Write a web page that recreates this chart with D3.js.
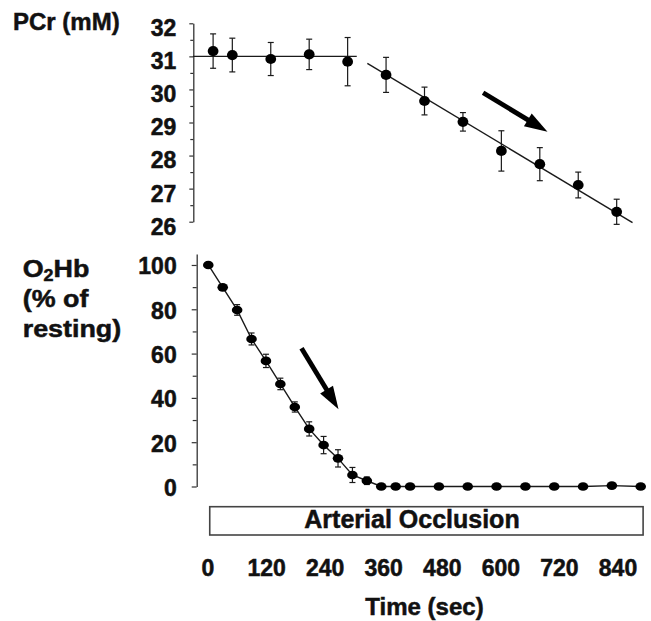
<!DOCTYPE html>
<html>
<head>
<meta charset="utf-8">
<script src="https://cdn.jsdelivr.net/npm/d3@7"></script>
<style>
  body { margin: 0; background: #fff; }
  text { font-family: "Liberation Sans", Arial, sans-serif; font-weight: bold; fill: #111; stroke: #111; stroke-width: 0.5px; }
</style>
</head>
<body>
<svg id="chart" width="651" height="621"></svg>
<script>
// PCr (top panel), mean +/- error, time in sec
const pcrTime = [10, 50, 130, 210, 290, 370, 450, 530, 610, 690, 770, 850];
const pcrMean = [31.16, 31.04, 30.92, 31.06, 30.84, 30.44, 29.65, 29.02, 28.14, 27.74, 27.11, 26.30];
const pcrErr  = [0.52, 0.51, 0.50, 0.46, 0.73, 0.53, 0.42, 0.28, 0.61, 0.50, 0.39, 0.38];
const pcrRestFit  = [[-32, 31.0], [309, 31.0]];
const pcrSlopeFit = [[331, 30.79], [883, 25.97]];
const pcrArrow = [[572, 29.90], [706, 28.72]];
const pcrTicks = [26, 27, 28, 29, 30, 31, 32];
const pcrMinor = [26.5, 27.5, 28.5, 29.5, 30.5, 31.5];

// O2Hb (bottom panel), % of resting
const hbTime = [0, 30, 60, 90, 120, 150, 180, 210, 240, 270, 300, 330, 360, 390, 420,
                480, 540, 600, 660, 720, 780, 840, 900];
const hbMean = [100, 89.9, 79.7, 66.6, 56.7, 46.3, 35.9, 26.0, 18.7, 12.7, 5.2, 2.6, 0, 0, 0,
                0, 0, 0, 0, 0, 0, 0.4, 0];
const hbErr  = [0.3, 1.2, 2.4, 2.7, 3.0, 2.6, 2.3, 3.2, 3.9, 3.9, 3.4, 1.7, 0.3, 0.3, 0.3,
                0.3, 0.3, 0.3, 0.3, 0.3, 0.3, 0.3, 0.3];
const hbArrow = [[194, 62.4], [271, 34.9]];
const hbTicks = [0, 20, 40, 60, 80, 100];
const hbMinor = [10, 30, 50, 70, 90];

// time axis
const timeTicks = [0, 120, 240, 360, 480, 600, 720, 840];
const occlusion = [3, 905];

const svg = d3.select('#chart');
const ink = '#1a1a1a';

// scales
const x = d3.scaleLinear().domain([0, 900]).range([208.3, 640.7]);
const xLabel = d3.scaleLinear().domain([0, 840]).range([207.5, 617.5]); // printed labels sit a bit apart from data
const yPcr = d3.scaleLinear().domain([26, 32]).range([221.7, 23.3]);
const yHb = d3.scaleLinear().domain([0, 105]).range([486.5, 253.9]);

const pcrAxisX = 193.3;
const hbAxisX = 196.7;
const fmt = d3.format('d');

function styleAxis(g) {
    g.select('.domain').attr('stroke', '#333').attr('stroke-width', 1.3);
    g.selectAll('.tick line').attr('stroke', '#333').attr('stroke-width', 1.2);
    g.selectAll('text').attr('font-size', 23).attr('fill', '#111');
}

// ---- top panel axis
const gPcrAxis = svg.append('g')
    .attr('transform', `translate(${pcrAxisX},0)`)
    .call(d3.axisLeft(yPcr).tickValues(pcrTicks).tickFormat(fmt).tickSize(4).tickSizeOuter(0).tickPadding(13))
    .call(styleAxis);
gPcrAxis.selectAll('text').attr('transform', 'translate(0,5)');
svg.append('g')
    .attr('transform', `translate(${pcrAxisX},0)`)
    .call(d3.axisLeft(yPcr).tickValues(pcrMinor).tickSize(3).tickFormat(''))
    .call(styleAxis)
    .select('.domain').remove();

// ---- bottom panel axis
svg.append('g')
    .attr('transform', `translate(${hbAxisX},0)`)
    .call(d3.axisLeft(yHb).tickValues(hbTicks).tickFormat(fmt).tickSize(5).tickSizeOuter(0).tickPadding(15))
    .call(styleAxis)
    .selectAll('text').attr('transform', 'translate(0,1.5)');
svg.append('g')
    .attr('transform', `translate(${hbAxisX},0)`)
    .call(d3.axisLeft(yHb).tickValues(hbMinor).tickSize(4).tickFormat(''))
    .call(styleAxis)
    .select('.domain').remove();

// ---- time labels (no axis line in the original)
const gTime = svg.append('g')
    .attr('transform', 'translate(0,576)')
    .call(d3.axisBottom(xLabel).tickValues(timeTicks).tickFormat(fmt).tickSize(0));
gTime.select('.domain').remove();
gTime.selectAll('text').attr('y', 0).attr('dy', 0).attr('font-size', 23).attr('fill', '#111');

// ---- fit lines, top panel
const line = (ys) => d3.line().x(d => x(d[0])).y(d => ys(d[1]));
[pcrRestFit, pcrSlopeFit].forEach(f => {
    svg.append('path').datum(f)
        .attr('d', line(yPcr))
        .attr('fill', 'none').attr('stroke', ink).attr('stroke-width', 1.4);
});

// ---- connecting line, bottom panel
const hbData = hbTime.map((t, i) => [t, hbMean[i], hbErr[i]]);
svg.append('path').datum(hbData)
    .attr('d', line(yHb))
    .attr('fill', 'none').attr('stroke', ink).attr('stroke-width', 1.4);

// error bars + dots
function drawPoints(data, ys, rx, ry) {
    const g = svg.append('g');
    const eb = g.selectAll('g.eb').data(data).enter().append('g').attr('class', 'eb');
    eb.append('line')
        .attr('x1', d => x(d[0])).attr('x2', d => x(d[0]))
        .attr('y1', d => ys(d[1] + d[2])).attr('y2', d => ys(d[1] - d[2]))
        .attr('stroke', ink).attr('stroke-width', 1.2);
    [1, -1].forEach(s => {
        eb.append('line')
            .attr('x1', d => x(d[0]) - 3).attr('x2', d => x(d[0]) + 3)
            .attr('y1', d => ys(d[1] + s * d[2])).attr('y2', d => ys(d[1] + s * d[2]))
            .attr('stroke', ink).attr('stroke-width', 1.2);
    });
    g.selectAll('ellipse').data(data).enter().append('ellipse')
        .attr('cx', d => x(d[0])).attr('cy', d => ys(d[1]))
        .attr('rx', rx).attr('ry', ry)
        .attr('fill', '#000');
}
const pcrData = pcrTime.map((t, i) => [t, pcrMean[i], pcrErr[i]]);
drawPoints(pcrData, yPcr, 5.4, 5.1);
drawPoints(hbData, yHb, 5.3, 4.3);

// ---- arrows
function drawArrow(pts, ys) {
    const x0 = x(pts[0][0]), y0 = ys(pts[0][1]);
    const x1 = x(pts[1][0]), y1 = ys(pts[1][1]);
    const len = Math.hypot(x1 - x0, y1 - y0);
    const ux = (x1 - x0) / len, uy = (y1 - y0) / len;
    const headL = 23, headW = 7.5;
    const bx = x1 - ux * headL, by = y1 - uy * headL;
    svg.append('line')
        .attr('x1', x0).attr('y1', y0)
        .attr('x2', bx + ux * 2).attr('y2', by + uy * 2)
        .attr('stroke', '#000').attr('stroke-width', 4.8);
    svg.append('path')
        .attr('d', `M${x1},${y1}L${bx - uy * headW},${by + ux * headW}L${bx + uy * headW},${by - ux * headW}Z`)
        .attr('fill', '#000');
}
drawArrow(pcrArrow, yPcr);
drawArrow(hbArrow, yHb);

// ---- occlusion box
svg.append('rect')
    .attr('x', x(occlusion[0])).attr('y', 506.7)
    .attr('width', x(occlusion[1]) - x(occlusion[0])).attr('height', 28.3)
    .attr('fill', 'none').attr('stroke', '#444').attr('stroke-width', 1.6);
svg.append('text')
    .attr('x', 412).attr('y', 527.7)
    .attr('text-anchor', 'middle').attr('font-size', 25)
    .text('Arterial Occlusion');

// ---- titles
svg.append('text')
    .attr('x', 13).attr('y', 29.5).attr('font-size', 24)
    .text('PCr (mM)');

const hbTitle = svg.append('g').attr('transform', 'translate(22.7,0) scale(1.12,1)');
const t1 = hbTitle.append('text').attr('x', 0).attr('y', 276.7).attr('font-size', 24);
t1.append('tspan').text('O');
t1.append('tspan').attr('font-size', 16).attr('dy', 4).text('2');
t1.append('tspan').attr('dy', -4).text('Hb');
hbTitle.append('text').attr('x', 0).attr('y', 306.7).attr('font-size', 24).text('(% of');
hbTitle.append('text').attr('x', 0).attr('y', 336.7).attr('font-size', 24).text('resting)');

svg.append('text')
    .attr('x', 424.5).attr('y', 615)
    .attr('text-anchor', 'middle').attr('font-size', 24)
    .text('Time (sec)');
</script>
</body>
</html>
